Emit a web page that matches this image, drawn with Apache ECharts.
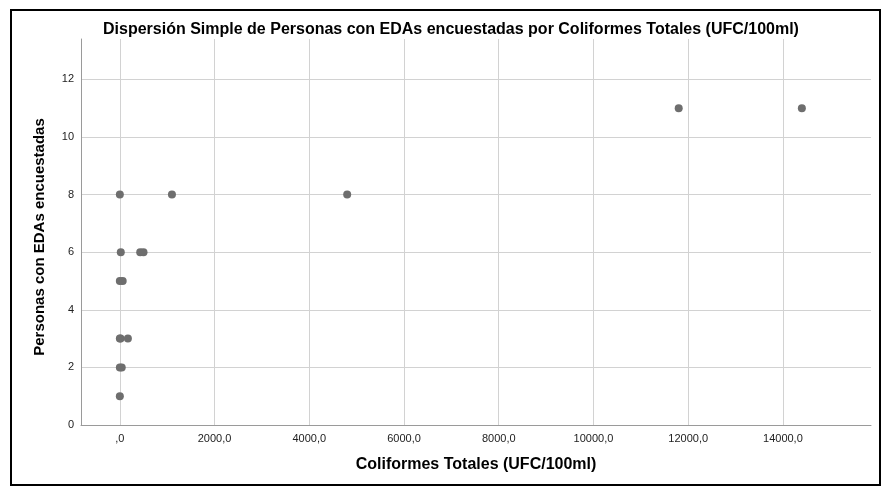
<!DOCTYPE html>
<html>
<head>
<meta charset="utf-8">
<script src="https://cdn.jsdelivr.net/npm/echarts@6/dist/echarts.min.js"></script>
<style>html,body{margin:0;padding:0;background:#fff}#c{width:884px;height:488px}</style>
</head>
<body>
<div id="c"></div>
<script>
var titleText = 'Dispersión Simple de Personas con EDAs encuestadas por Coliformes Totales (UFC/100ml)';
var xName = 'Coliformes Totales (UFC/100ml)';
var yName = 'Personas con EDAs encuestadas';
var coliformes = [0, 1100, 4800, 20, 430, 500, 0, 60, 0, 15, 170, 0, 40, 0, 11800, 14400];
var personas   = [8, 8, 8, 6, 6, 6, 5, 5, 3, 3, 3, 2, 2, 1, 11, 11];
var xTicks = [0, 2000, 4000, 6000, 8000, 10000, 12000, 14000];
var xTickLabels = [',0', '2000,0', '4000,0', '6000,0', '8000,0', '10000,0', '12000,0', '14000,0'];
var yTicks = [0, 2, 4, 6, 8, 10, 12];
var yTickLabels = ['0', '2', '4', '6', '8', '10', '12'];

var points = coliformes.map(function (v, i) { return [v, personas[i]]; });
var FONT = '"Liberation Sans", Arial, sans-serif';

var chart = echarts.init(document.getElementById('c'), null, {renderer: 'canvas'});
chart.setOption({
  animation: false,
  backgroundColor: '#ffffff',
  title: {
    text: titleText,
    left: 446, top: 17, textAlign: 'center',
    textStyle: {fontFamily: FONT, fontSize: 16, fontWeight: 'bold', color: '#000'}
  },
  graphic: [{
    type: 'rect', silent: true, z: 100,
    shape: {x: 11, y: 10, width: 869, height: 475},
    style: {fill: null, stroke: '#000', lineWidth: 2}
  }],
  grid: {left: 81, right: 13, top: 39, bottom: 63, containLabel: false},
  xAxis: {
    type: 'value', min: -820, max: 15860,
    name: xName, nameLocation: 'middle', nameGap: 32,
    nameTextStyle: {fontFamily: FONT, fontSize: 16, fontWeight: 'bold', color: '#000'},
    axisLine: {show: true, onZero: false, lineStyle: {color: '#9a9a9a', width: 1}},
    axisTick: {show: false, customValues: xTicks},
    axisLabel: {
      customValues: xTicks, margin: 8,
      fontFamily: FONT, fontSize: 11, color: '#222',
      formatter: function (v) { var i = xTicks.indexOf(v); return i >= 0 ? xTickLabels[i] : ''; }
    },
    splitLine: {show: true, lineStyle: {color: '#d2d2d2', width: 1}}
  },
  yAxis: {
    type: 'value', min: 0, max: 13.4,
    name: yName, nameLocation: 'middle', nameGap: 34,
    nameTextStyle: {fontFamily: FONT, fontSize: 15, fontWeight: 'bold', color: '#000', padding: [0, 10, 0, 0]},
    axisLine: {show: true, onZero: false, lineStyle: {color: '#9a9a9a', width: 1}},
    axisTick: {show: false, customValues: yTicks},
    axisLabel: {
      customValues: yTicks, margin: 7, fontFamily: FONT, fontSize: 11, color: '#222',
      formatter: function (v) { var i = yTicks.indexOf(v); return i >= 0 ? yTickLabels[i] : ''; }
    },
    splitLine: {show: true, lineStyle: {color: '#d2d2d2', width: 1}}
  },
  series: [{
    type: 'scatter',
    data: points,
    symbol: 'circle', symbolSize: 8,
    itemStyle: {color: '#6e6e6e', opacity: 1}
  }]
});
</script>
</body>
</html>
